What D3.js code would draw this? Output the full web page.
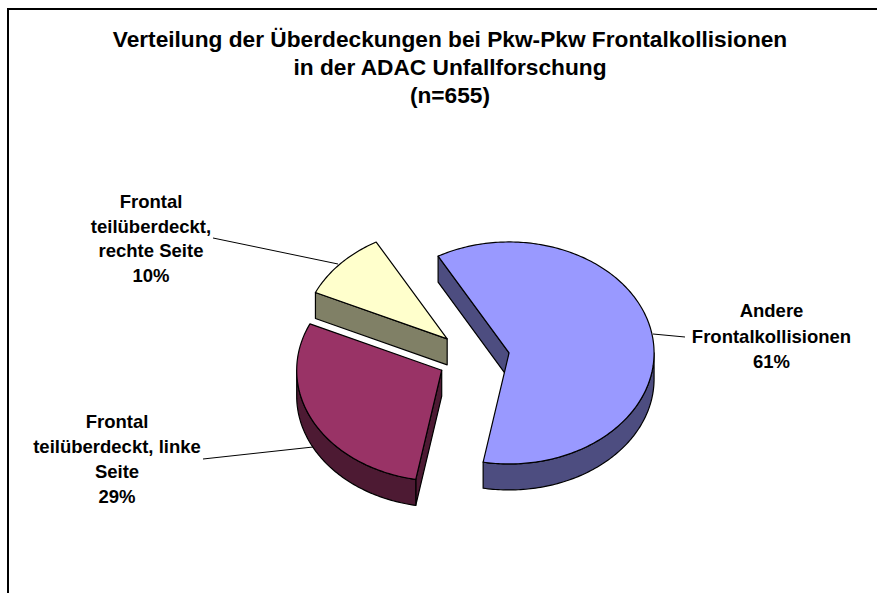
<!DOCTYPE html>
<html lang="de">
<head>
    <meta charset="UTF-8">
    <title>Verteilung der Überdeckungen</title>
    <style>
        html, body { margin: 0; padding: 0; background: #fff; }
        svg { display: block; }
        text { font-family: "Liberation Sans", Arial, sans-serif; font-weight: bold; fill: #000; }
    </style>
</head>
<body>
    <svg width="877" height="593"></svg>

    <script src="https://d3js.org/d3.v7.min.js"></script>
    <script>
        const categories = ["Andere Frontalkollisionen", "Frontal teilüberdeckt, linke Seite", "Frontal teilüberdeckt, rechte Seite"];
        const shares = [61, 29, 10];
        const topColors = ["#9999ff", "#993366", "#ffffcc"];
        const sideColors = ["#4d4d80", "#4d1a33", "#808066"];
        const titleLines = ["Verteilung der Überdeckungen bei Pkw-Pkw Frontalkollisionen", "in der ADAC Unfallforschung", "(n=655)"];
        const labelLines = [
            ["Andere", "Frontalkollisionen", "61%"],
            ["Frontal", "teilüberdeckt, linke", "Seite", "29%"],
            ["Frontal", "teilüberdeckt,", "rechte Seite", "10%"]
        ];
        const labelPos = [[771.5, 317], [117, 428], [151, 208]];
        const labelStep = [25.5, 25, 24.7];
        const leaders = [
            [[653, 334], [685, 337]],
            [[203, 459], [313, 447]],
            [[213, 238], [338, 264]]
        ];

        const width = 877, height = 593;
        const depth = 26, explode = 0.248;
        const deg = Math.PI / 180;

        const svg = d3.select("svg");

        // chart frame runs off the picture on the right and at the bottom
        svg.append("path")
            .attr("d", `M8,${height + 2}V9H${width + 2}`)
            .attr("fill", "none")
            .attr("stroke", "#000")
            .attr("stroke-width", 2);

        // unit circle to the tilted pie ellipse
        const x = d3.scaleLinear().domain([-1, 1]).range([328.6, 618.6]);
        const y = d3.scaleLinear().domain([-1, 1]).range([246.5, 468.5]);

        const pie = d3.pie().sort(null).value(d => d)
            .startAngle(-29.3 * deg).endAngle(330.7 * deg);
        const arcs = pie(shares);

        const line = d3.line().x(d => d[0]).y(d => d[1]);

        function arcPoints(a0, a1, ox, oy) {
            const n = Math.max(2, Math.ceil((a1 - a0) / deg));
            return d3.range(n + 1).map(i => {
                const a = a0 + (a1 - a0) * i / n;
                return [x(ox + Math.sin(a)), y(oy - Math.cos(a))];
            });
        }

        function drawFace(g, pts, fill) {
            g.append("path")
                .attr("d", line(pts) + "Z")
                .attr("fill", fill)
                .attr("stroke", "#000")
                .attr("stroke-width", 1.2)
                .attr("stroke-linejoin", "round");
        }

        function extrude(pts) {
            return pts.concat(pts.slice().reverse().map(p => [p[0], p[1] + depth]));
        }

        const slices = svg.selectAll("g.slice")
            .data(arcs)
            .enter().append("g")
            .attr("class", "slice");

        slices.each(function(d, i) {
            const g = d3.select(this);
            const mid = (d.startAngle + d.endAngle) / 2;
            const ox = explode * Math.sin(mid), oy = -explode * Math.cos(mid);
            const apex = [x(ox), y(oy)];
            const rim = arcPoints(d.startAngle, d.endAngle, ox, oy);

            // cut faces, only the ones turned towards the viewer
            if (Math.sin(d.startAngle) < 0) drawFace(g, extrude([apex, rim[0]]), sideColors[i]);
            if (Math.sin(d.endAngle) > 0) drawFace(g, extrude([apex, rim[rim.length - 1]]), sideColors[i]);

            // outer wall is visible on the front half of the ellipse
            const w0 = Math.max(d.startAngle, 90 * deg), w1 = Math.min(d.endAngle, 270 * deg);
            if (w1 > w0) drawFace(g, extrude(arcPoints(w0, w1, ox, oy)), sideColors[i]);

            drawFace(g, [apex].concat(rim), topColors[i]);
        });

        svg.selectAll("path.leader")
            .data(leaders)
            .enter().append("path")
            .attr("class", "leader")
            .attr("d", d => line(d))
            .attr("fill", "none")
            .attr("stroke", "#000")
            .attr("stroke-width", 1);

        const title = svg.append("text")
            .attr("text-anchor", "middle")
            .attr("font-size", 22.7);
        title.selectAll("tspan")
            .data(titleLines)
            .enter().append("tspan")
            .attr("x", 450)
            .attr("y", (d, i) => 47 + i * 27.8)
            .text(d => d);

        svg.selectAll("text.label")
            .data(labelLines)
            .enter().append("text")
            .attr("class", "label")
            .attr("text-anchor", "middle")
            .attr("font-size", 18.5)
            .each(function(lines, i) {
                d3.select(this).selectAll("tspan")
                    .data(lines)
                    .enter().append("tspan")
                    .attr("x", labelPos[i][0])
                    .attr("y", (d, j) => labelPos[i][1] + j * labelStep[i])
                    .text(d => d);
            });
    </script>
</body>
</html>
